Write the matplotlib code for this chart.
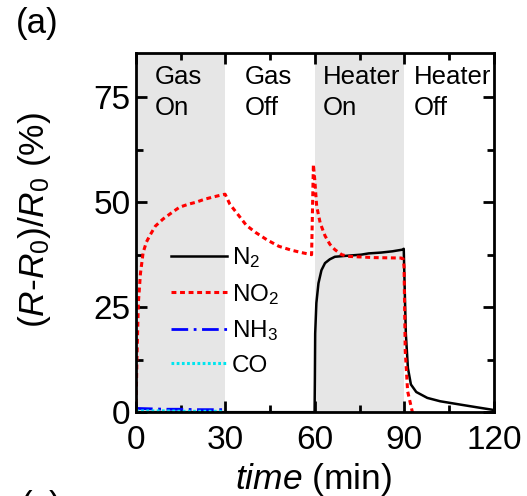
import matplotlib
matplotlib.use("Agg")
import matplotlib.pyplot as plt

plt.rcParams['font.family'] = ['Liberation Sans', 'DejaVu Sans']
plt.rcParams['mathtext.fontset'] = 'custom'
plt.rcParams['mathtext.rm'] = 'Liberation Sans'
plt.rcParams['mathtext.it'] = 'Liberation Sans:italic'
plt.rcParams['mathtext.bf'] = 'Liberation Sans:bold'

# Data
no2_t = [0, 0.3, 0.8, 1.5, 2.4, 3.5, 4.6, 6.5, 9.1, 12, 14.6, 17.5, 20.2, 23, 25.7, 28, 29.9,
         31.5, 34.6, 37, 40.1, 44, 47.9, 52, 55.5, 58.9, 59.5, 60.0, 60.6, 61.8, 63.4, 65, 66.7,
         69, 71.1, 80, 88.9, 89.6, 89.9, 90.3, 91.1, 92.7, 94]
no2_y = [0, 12, 26, 33, 38, 40.5, 42, 44.3, 46, 47.5, 48.8, 49.5, 50, 50.7, 51.2, 51.6, 51.9,
         49.5, 46.7, 44.5, 42.8, 41, 39.5, 38.6, 38, 37.5, 59, 55, 49, 45, 42, 40, 38.7,
         37.5, 37.1, 36.8, 36.7, 36.5, 34.7, 14.6, 5, 0, -5]

n2_t = [0, 59.9, 60.0, 60.1, 60.5, 61.2, 62.2, 63.4, 65, 66.7, 70, 75.5, 78, 82.2, 86, 89.4,
        89.8, 90.1, 90.5, 91.2, 92.2, 94, 97.7, 102, 108.8, 114, 119.3, 120]
n2_y = [0, 0, 8, 18.7, 26, 30.7, 33.8, 35.5, 36.4, 37, 37.2, 37.5, 37.8, 38, 38.3, 38.7,
        38.9, 30, 18.7, 10.5, 6.6, 4.8, 3.4, 2.6, 1.8, 1.2, 0.6, 0.5]

nh3_t = [0, 5, 10, 15, 20, 25, 29]
nh3_y = [0.9, 0.8, 0.7, 0.7, 0.6, 0.6, 0.6]

co_t = [0, 5, 10, 15, 20, 25, 29]
co_y = [0.3, 0.3, 0.3, 0.2, 0.2, 0.2, 0.2]

phase_labels = ["Gas\nOn", "Gas\nOff", "Heater\nOn", "Heater\nOff"]
shaded = [(0, 30), (60, 90)]

# layout: left edge of each phase label (data x)
phase_label_x = [6.4, 36.6, 62.6, 93.2]

fig = plt.figure(figsize=(5.27, 4.96), dpi=100)
ax = fig.add_axes([0.258, 0.169, 0.679, 0.724])

for a, b in shaded:
    ax.axvspan(a, b, color='#e6e6e6', lw=0, zorder=0)

ax.plot(n2_t, n2_y, color='black', lw=1.8, label='N$_2$', zorder=3)
ax.plot(no2_t, no2_y, color='#ff0000', lw=2.2, ls=(0, (1.6, 1.2)), label='NO$_2$', zorder=4)
ax.plot(nh3_t, nh3_y, color='#0000ff', lw=2, ls=(0, (6, 2, 1, 2)), label='NH$_3$', zorder=5)
ax.plot(co_t, co_y, color='#00e5ee', lw=2.2, ls=(0, (0.9, 0.8)), label='CO', zorder=6)

for x0, lab in zip(phase_label_x, phase_labels):
    ax.text(x0, 82.6, lab, fontsize=18.5, va='top', ha='left', linespacing=1.38, zorder=7)

ax.set_xlim(0, 120)
ax.set_ylim(0, 85.5)
ax.set_xticks([0, 30, 60, 90, 120])
ax.set_xticks([15, 45, 75, 105], minor=True)
ax.set_yticks([0, 25, 50, 75])
ax.set_yticks([12.5, 37.5, 62.5], minor=True)
ax.tick_params(which='both', direction='in', top=True, right=True, labelsize=24, width=2)
ax.tick_params(which='major', length=8)
ax.tick_params(axis='x', which='major', pad=9)
ax.tick_params(axis='y', which='major', pad=4)
ax.tick_params(which='minor', length=5)
for s in ax.spines.values():
    s.set_linewidth(2)
    s.set_zorder(10)

ax.set_xlabel(r'$\it{time}$ (min)', fontsize=25.5)
ax.xaxis.set_label_coords(0.497, -0.137)
ax.set_ylabel(r'($\it{R}$-$\it{R_0}$)/$\it{R_0}$ (%)', fontsize=25.5)
ax.yaxis.set_label_coords(-0.232, 0.535)

leg = ax.legend(loc='upper left', bbox_to_anchor=(0.07, 0.492), frameon=False, fontsize=17.5,
                handlelength=2.3, handletextpad=0.2, labelspacing=0.48, borderaxespad=0)

fig.text(0.03, 0.985, '(a)', fontsize=25, va='top', ha='left')
fig.text(0.04, 0.012, '(c)', fontsize=25, va='top', ha='left')

fig.savefig('out.png', dpi=100)
